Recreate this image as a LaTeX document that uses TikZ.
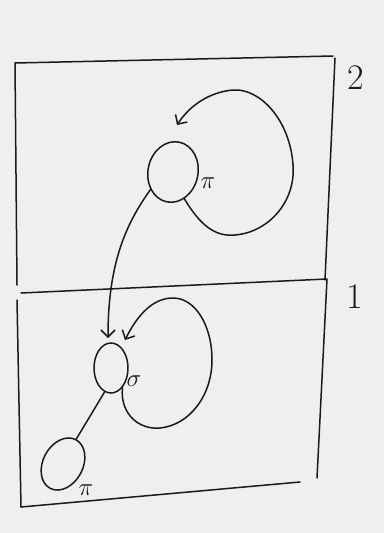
\documentclass[tikz,border=0pt]{standalone}
\usetikzlibrary{shapes.geometric,arrows.meta}
\definecolor{paper}{HTML}{EFEFEF}
\definecolor{ink}{HTML}{1A1A1A}
\begin{document}
\begin{tikzpicture}[x=1pt,y=-1pt,
  pen/.style={draw=ink,line width=1.5pt,line cap=round,line join=round},
  var/.style={pen,ellipse,inner sep=0pt},
  tip/.style={-{Straight Barb[length=7pt,width=14pt,line width=1.5pt]}},
  lab/.style={text=ink,inner sep=0pt,font=\fontsize{26}{26}\selectfont},
  plate/.style={text=ink,inner sep=0pt,font=\fontsize{36}{36}\selectfont}]
\fill[paper] (0,0) rectangle (384,533);
\useasboundingbox (0,0) rectangle (384,533);
% plates
\draw[pen] (15,63) -- (333,56);
\draw[pen] (335,58) -- (325,280);
\draw[pen] (15,63) -- (17,285);
\draw[pen] (21,293) -- (327,279) -- (317,478);
\draw[pen] (17,300) -- (21,507) -- (300,482);
\node[plate] (n2) at (356,78) {2};
\node[plate] (n1) at (355,297) {1};
% nodes
\node[var,minimum width=50pt,minimum height=61pt,rotate=-12] (p2) at (173,172) {};
\node[var,minimum width=34pt,minimum height=50pt] (s) at (111,368) {};
\node[var,minimum width=40pt,minimum height=55pt,rotate=-28] (p1) at (63,464) {};
\node[lab] (lp2) at (208,183) {$\pi$};
\node[lab] (ls) at (134,381) {$\sigma$};
\node[lab] (lp1) at (86,490) {$\pi$};
% edges
\coordinate (t2) at (177,125);
\draw[pen,tip] (p2.-55) .. controls (200,225) and (215,237) .. (235,235)
  .. controls (270,232) and (296,200) .. (293,165)
  .. controls (290,120) and (260,88) .. (233,90)
  .. controls (210,92) and (190,105) .. (t2);
\coordinate (ts) at (108,338);
\draw[pen,tip] (p2.-130) .. controls (125,225) and (108,265) .. (ts);
\coordinate (ts2) at (125,340);
\draw[pen,tip] (s.-60) .. controls (120,415) and (140,430) .. (160,428)
  .. controls (190,425) and (212,395) .. (212,360)
  .. controls (212,325) and (195,298) .. (173,298)
  .. controls (150,298) and (135,320) .. (ts2);
\draw[pen] (s.-105) -- (p1.north);
\end{tikzpicture}
\end{document}
